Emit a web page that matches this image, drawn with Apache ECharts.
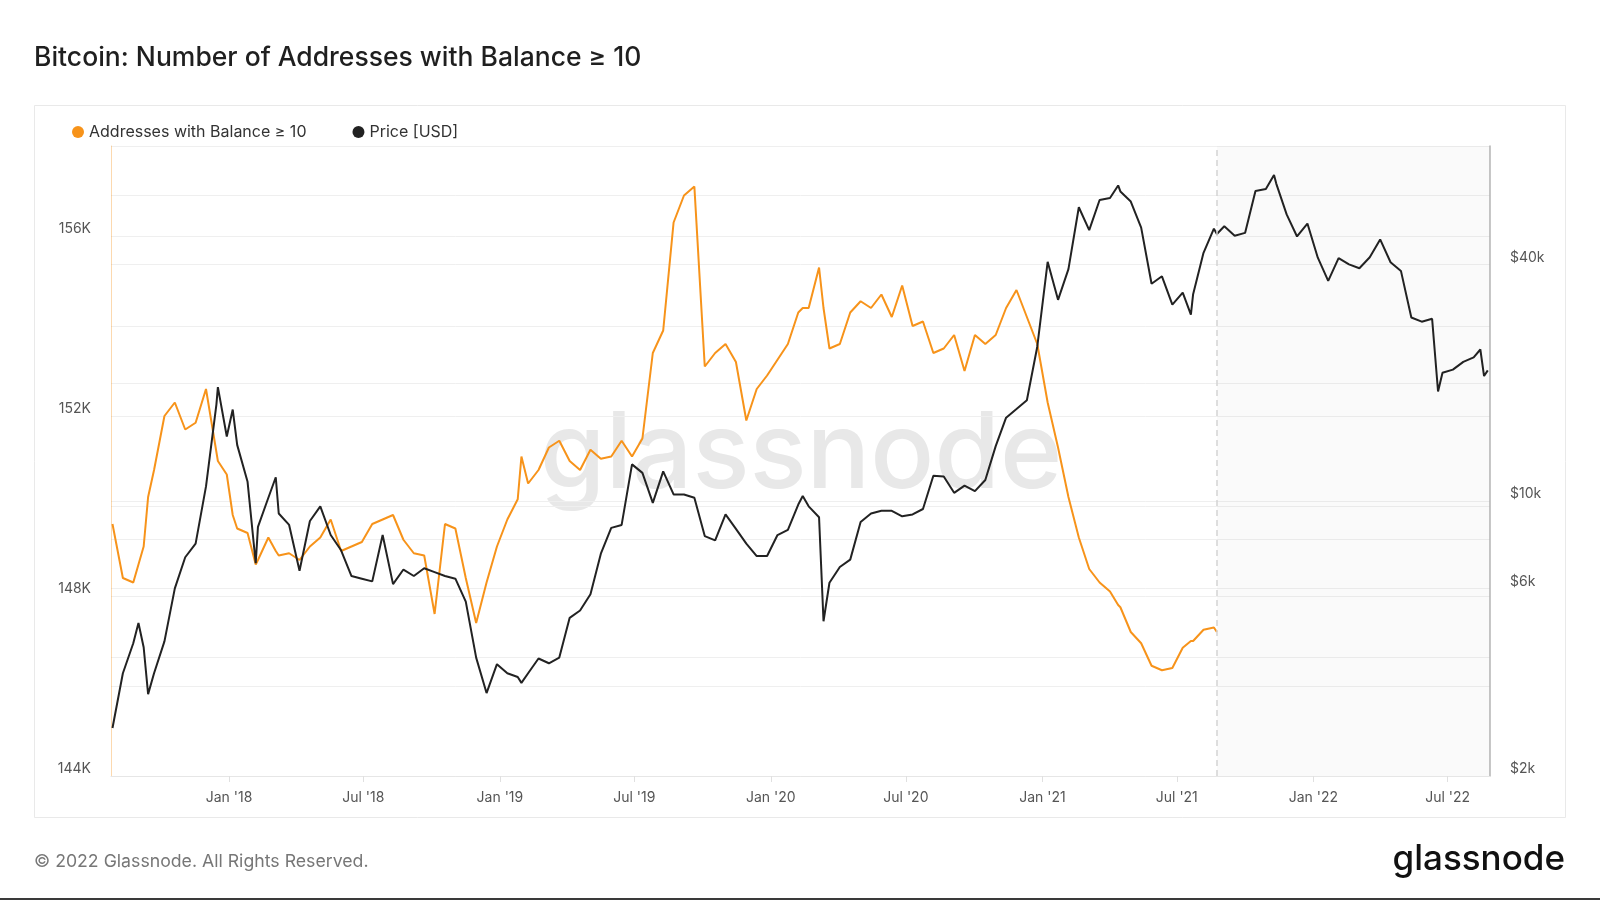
<!DOCTYPE html>
<html>
<head>
<meta charset="utf-8">
<title>Bitcoin: Number of Addresses with Balance ≥ 10</title>
<script src="https://cdn.jsdelivr.net/npm/echarts@6/dist/echarts.min.js"></script>
<style>
  html, body { margin: 0; padding: 0; background: #fff; }
  #chart { width: 1600px; height: 900px; }
</style>
</head>
<body>
<div id="chart"></div>
<script>
// sample dates, roughly every two weeks plus a few turning points
const dates = [
  '2017-07-28','2017-08-11','2017-08-25','2017-09-01','2017-09-08','2017-09-14','2017-09-22',
  '2017-10-06','2017-10-20','2017-11-03','2017-11-17','2017-12-01','2017-12-15','2017-12-17',
  '2017-12-29',
  '2018-01-06','2018-01-12','2018-01-26','2018-02-06','2018-02-09','2018-02-23','2018-03-05',
  '2018-03-09','2018-03-23','2018-04-06','2018-04-20','2018-05-04','2018-05-18','2018-06-01',
  '2018-06-15','2018-06-29','2018-07-13','2018-07-27','2018-08-10','2018-08-24','2018-09-07',
  '2018-09-21','2018-10-05','2018-10-19','2018-11-02','2018-11-16','2018-11-30','2018-12-14',
  '2018-12-28',
  '2019-01-11','2019-01-25','2019-01-30','2019-02-08','2019-02-22','2019-03-08','2019-03-22',
  '2019-04-05','2019-04-19','2019-05-03','2019-05-17','2019-05-31','2019-06-14','2019-06-28',
  '2019-07-12','2019-07-26','2019-08-09','2019-08-23','2019-09-06','2019-09-20','2019-10-04',
  '2019-10-18','2019-11-01','2019-11-15','2019-11-29','2019-12-13','2019-12-27',
  '2020-01-10','2020-01-24','2020-02-07','2020-02-13','2020-02-21','2020-03-06','2020-03-12',
  '2020-03-20','2020-04-03','2020-04-17','2020-05-01','2020-05-15','2020-05-29','2020-06-12',
  '2020-06-26','2020-07-10','2020-07-24','2020-08-07','2020-08-21','2020-09-04','2020-09-18',
  '2020-10-02','2020-10-16','2020-10-30','2020-11-13','2020-11-27','2020-12-11','2020-12-25',
  '2021-01-08','2021-01-22','2021-02-05','2021-02-19','2021-03-05','2021-03-19','2021-04-02',
  '2021-04-13','2021-04-16','2021-04-30','2021-05-14','2021-05-28','2021-06-11','2021-06-25',
  '2021-07-09','2021-07-20','2021-07-23','2021-08-06','2021-08-20','2021-08-24',
  '2021-09-03','2021-09-17','2021-10-01','2021-10-15','2021-10-29','2021-11-09','2021-11-12',
  '2021-11-26','2021-12-10','2021-12-24',
  '2022-01-07','2022-01-21','2022-02-04','2022-02-18','2022-03-04','2022-03-18','2022-04-01',
  '2022-04-15','2022-04-29','2022-05-13','2022-05-27','2022-06-10','2022-06-18','2022-06-24',
  '2022-07-08','2022-07-22','2022-08-05','2022-08-14','2022-08-19','2022-08-24'
];

// addresses with balance >= 10 BTC, in thousands (series stops 2021-08-24)
const addresses = [
  149.6, 148.4, 148.3, 148.7, 149.1, 150.2, 150.8, 152.0, 152.3, 151.7, 151.85, 152.6, 151.2, 151.0,
  150.7,
  149.8, 149.5, 149.4, 148.7, 148.8, 149.3, 149.0, 148.9, 148.95, 148.8, 149.1, 149.3, 149.7, 149.0,
  149.1, 149.2, 149.6, 149.7, 149.8, 149.25, 148.95, 148.9, 147.6, 149.6, 149.5, 148.4, 147.4, 148.3,
  149.1,
  149.7, 150.15, 151.1, 150.5, 150.8, 151.3, 151.45, 151.0, 150.8, 151.25, 151.05, 151.1, 151.45,
  151.1, 151.5, 153.4, 153.9, 156.3, 156.9, 157.1, 153.1, 153.4, 153.6, 153.2, 151.9, 152.6, 152.9,
  153.25, 153.6, 154.3, 154.4, 154.4, 155.3, 154.4, 153.5, 153.6, 154.3, 154.55, 154.4, 154.7, 154.2,
  154.9, 154.0, 154.1, 153.4, 153.5, 153.8, 153.0, 153.8, 153.6, 153.8, 154.4, 154.8, 154.2, 153.6,
  152.3, 151.3, 150.2, 149.3, 148.6, 148.3, 148.1, 147.8, 147.75, 147.2, 146.95, 146.45, 146.35,
  146.4, 146.85, 147.0, 147.0, 147.25, 147.3, 147.2
];

// BTC price in USD
const price = [
  2650, 3650, 4350, 4900, 4250, 3230, 3650, 4400, 6000, 7200, 7800, 10900, 17600, 19500,
  14600,
  17100, 13900, 11200, 6950, 8600, 10200, 11500, 9300, 8700, 6650, 8900, 9700, 8200, 7500,
  6450, 6350, 6250, 8200, 6150, 6700, 6450, 6750, 6600, 6450, 6350, 5550, 4000, 3250,
  3850,
  3650, 3570, 3450, 3650, 3980, 3870, 4000, 5050, 5270, 5800, 7350, 8550, 8700,
  12400, 11800, 9900, 11900, 10400, 10400, 10200, 8150, 7950, 9250, 8500, 7800, 7250, 7250,
  8200, 8450, 9800, 10300, 9700, 9100, 4950, 6200, 6800, 7100, 8850, 9300, 9450, 9450,
  9150, 9250, 9550, 11600, 11550, 10500, 10950, 10600, 11320, 13800, 16300, 17150, 18050, 24700,
  40600, 32500, 38900, 55900, 48900, 58300, 59000, 63500, 61300, 57800, 49600, 35700, 37300,
  31600, 33900, 29800, 33600, 42800, 49300, 47800,
  50000, 47300, 48100, 61500, 62200, 67500, 64200,
  53600, 47100, 50800,
  41600, 36300, 41500, 40000, 39100, 41700, 46300, 40500, 38500, 29300, 28600, 29100, 19000,
  21200, 21600, 22600, 23200, 24300, 20800, 21500
];

const xTicks = ['2018-01-01', '2018-07-01', '2019-01-01', '2019-07-01', '2020-01-01',
  '2020-07-01', '2021-01-01', '2021-07-01', '2022-01-01', '2022-07-01'];
const priceGrid = [2000, 4000, 6000, 8000, 10000, 20000, 40000, 60000, 80000];
const priceLabels = [2000, 6000, 10000, 40000];
const lastDataDay = '2021-08-24';
const firstDay = '2017-07-26';
const endDay = '2022-08-27';

const day = s => Date.parse(s + 'T00:00:00Z');
const FONT = 'Inter, "Noto Sans", sans-serif';
const chart = echarts.init(document.getElementById('chart'));

chart.setOption({
  backgroundColor: '#fff',
  animation: false,
  textStyle: { fontFamily: FONT },
  graphic: {
    elements: [
      { type: 'text', x: 34, y: 58, style: { text: 'Bitcoin: Number of Addresses with Balance ≥ 10',
        font: '500 26.5px ' + FONT, fill: '#1f1f1f', textVerticalAlign: 'middle' } },
      { type: 'rect', shape: { x: 34.5, y: 105.5, width: 1531, height: 712 },
        style: { fill: 'none', stroke: '#e9e9e9', lineWidth: 1 }, silent: true },
      { type: 'text', x: 801, y: 456, z: -1, silent: true, style: { text: 'glassnode',
        font: '500 106px ' + FONT, fill: '#e8e8e8', textAlign: 'center', textVerticalAlign: 'middle' } },
      { type: 'text', x: 34, y: 862, style: { text: '© 2022 Glassnode. All Rights Reserved.',
        font: '17.7px ' + FONT, fill: '#777', textVerticalAlign: 'middle' } },
      { type: 'text', x: 1565, y: 859, style: { text: 'glassnode',
        font: '500 35px ' + FONT, fill: '#111', textAlign: 'right', textVerticalAlign: 'middle' } },
      { type: 'rect', shape: { x: 0, y: 898, width: 1600, height: 2 }, style: { fill: '#3a3a3a' } }
    ]
  },
  legend: {
    left: 67, top: 119, icon: 'circle', itemWidth: 12, itemHeight: 12, itemGap: 46,
    textStyle: { fontSize: 16, color: '#333', fontFamily: FONT },
    data: ['Addresses with Balance ≥ 10', 'Price [USD]']
  },
  grid: { left: 111, right: 110, top: 146, bottom: 124, containLabel: false },
  xAxis: {
    type: 'value',
    min: day(firstDay),
    max: day(endDay),
    axisLine: { show: true, lineStyle: { color: '#e6e6e6' } },
    axisTick: { show: true, customValues: xTicks.map(day), length: 6, lineStyle: { color: '#e0e0e0' } },
    axisLabel: {
      customValues: xTicks.map(day), color: '#555', fontSize: 14, margin: 15, fontFamily: FONT,
      formatter: function (v) {
        const d = new Date(v);
        return (d.getUTCMonth() < 6 ? 'Jan' : 'Jul') + " '" + String(d.getUTCFullYear()).slice(2);
      }
    },
    splitLine: { show: false }
  },
  yAxis: [
    {
      type: 'value', position: 'left', min: 144, max: 158, interval: 2,
      axisLine: { show: true, lineStyle: { color: 'rgba(247,147,26,0.35)' } },
      axisTick: { show: false },
      axisLabel: { color: '#555', fontSize: 14, margin: 20, verticalAlign: 'bottom', fontFamily: FONT,
        formatter: v => (v % 4 === 0 ? v + 'K' : '') },
      splitLine: { lineStyle: { color: '#efefef' } }
    },
    {
      type: 'log', logBase: 10, position: 'right', min: 2000, max: 80000,
      axisLine: { show: true, lineStyle: { color: '#b5b5b5', width: 1.5 } },
      axisTick: { show: false, customValues: priceGrid },
      axisLabel: { customValues: priceLabels, color: '#555', fontSize: 14, margin: 20,
        verticalAlign: 'bottom', fontFamily: FONT, formatter: v => '$' + Math.round(v / 1000) + 'k' },
      splitLine: { show: true, lineStyle: { color: '#efefef' } }
    }
  ],
  series: [
    {
      name: 'Addresses with Balance ≥ 10',
      type: 'line',
      yAxisIndex: 0,
      showSymbol: false,
      data: addresses.map((v, i) => [day(dates[i]), v]),
      lineStyle: { color: '#f7931a', width: 2 },
      itemStyle: { color: '#f7931a' },
      markArea: {
        silent: true,
        itemStyle: { color: 'rgba(0,0,0,0.02)' },
        data: [[{ xAxis: day(lastDataDay) }, { xAxis: day(endDay) }]]
      },
      markLine: {
        silent: true, symbol: 'none', label: { show: false },
        lineStyle: { color: '#d4d4d4', type: [6, 4], width: 1.5 },
        data: [{ xAxis: day(lastDataDay) }]
      }
    },
    {
      name: 'Price [USD]',
      type: 'line',
      yAxisIndex: 1,
      showSymbol: false,
      data: price.map((v, i) => [day(dates[i]), v]),
      lineStyle: { color: '#222', width: 2 },
      itemStyle: { color: '#222' }
    }
  ]
});
</script>
</body>
</html>
